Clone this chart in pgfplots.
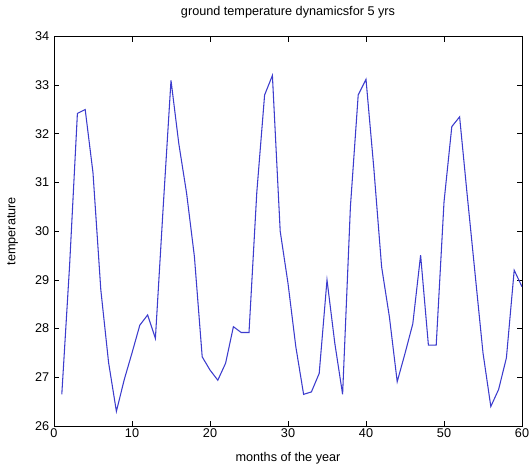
\documentclass[border=0pt]{standalone}
\usepackage{fontspec}
\setmainfont{Liberation Sans}
\usepackage{pgfplots}
\pgfplotsset{compat=1.18}
\definecolor{lineblue}{RGB}{60,60,205}
\begin{document}
\begin{tikzpicture}
\begin{axis}[
  scale only axis,
  width=351pt, height=292.1pt,
  xmin=0, xmax=60, ymin=26, ymax=34,
  xtick={0,10,...,60}, ytick={26,27,...,34},
  xtick pos=both, ytick pos=both,
  tick align=inside,
  major tick length=3.75pt,
  axis line style={line width=0.6pt, black},
  every tick/.style={black, line width=0.6pt},
  /pgf/number format/assume math mode=true,
  tick label style={font=\fontsize{9.5}{11}\selectfont},
  xticklabel style={anchor=base, yshift=-9pt},
  title={ground temperature dynamicsfor 5 yrs},
  title style={at={(axis description cs:0.5,1.0322)}, anchor=base, font=\fontsize{9.5}{11}\selectfont},
  xlabel={months of the year},
  xlabel style={at={(axis description cs:0.5,-0.0924)}, anchor=base, font=\fontsize{9.5}{11}\selectfont},
  ylabel={temperature},
  ylabel style={at={(axis description cs:-0.0823,0.5)}, anchor=base, font=\fontsize{9.5}{11}\selectfont},
]
\addplot[lineblue, line width=0.8pt, mark=none] coordinates {
(1,26.65) (2,29.3) (3,32.42) (4,32.5) (5,31.2) (6,28.8) (7,27.3) (8,26.3) (9,26.95) (10,27.5)
(11,28.07) (12,28.28) (13,27.8) (14,30.5) (15,33.1) (16,31.8) (17,30.78) (18,29.48) (19,27.42) (20,27.15)
(21,26.94) (22,27.29) (23,28.04) (24,27.92) (25,27.92) (26,30.8) (27,32.8) (28,33.2) (29,30.0) (30,28.93)
(31,27.63) (32,26.65) (33,26.7) (34,27.08) (35,29.0) (36,27.7) (37,26.65) (38,30.5) (39,32.8) (40,33.12)
(41,31.3) (42,29.27) (43,28.24) (44,26.91) (45,27.49) (46,28.1) (47,29.51) (48,27.66) (49,27.66) (50,30.6)
(51,32.15) (52,32.35) (53,30.7) (54,29.1) (55,27.5) (56,26.4) (57,26.75) (58,27.4) (59,29.2) (60,28.86)
};
\coordinate (bl) at (rel axis cs:0,0);
\coordinate (tr) at (rel axis cs:1,1);
\end{axis}
\pgfresetboundingbox
\path ([shift={(-40.5pt,-30pt)}]bl) rectangle ([shift={(7.5pt,27.4pt)}]tr);
\end{tikzpicture}
\end{document}
